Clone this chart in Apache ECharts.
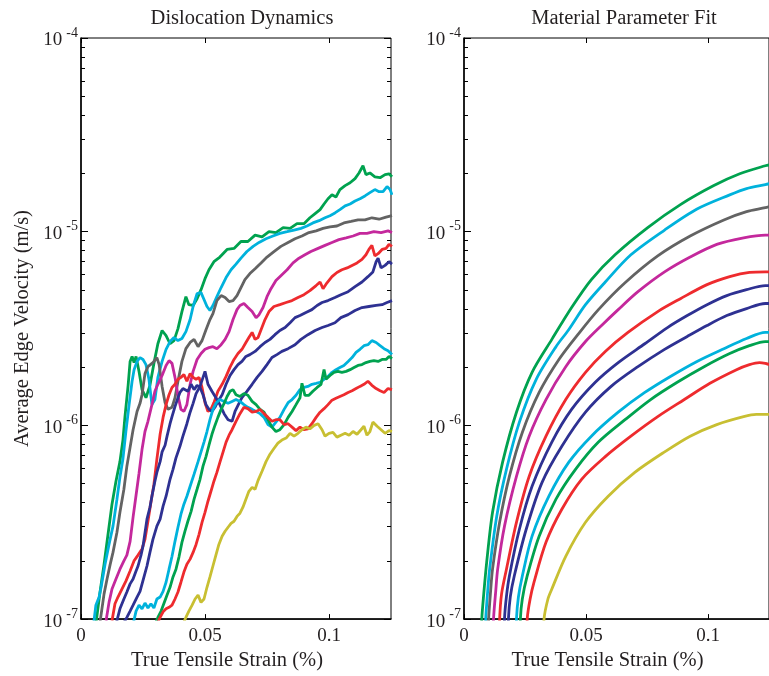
<!DOCTYPE html>
<html>
<head>
<meta charset="utf-8">
<script src="https://cdn.jsdelivr.net/npm/echarts@6/dist/echarts.min.js"></script>
<style>
  html, body { margin: 0; padding: 0; background: #fff; }
  #chart { width: 769px; height: 676px; }
</style>
</head>
<body>
<div id="chart"></div>
<script>
const strainTicks = [0, 0.05, 0.1];
const decades = [1e-7, 1e-6, 1e-5, 1e-4];
const panelTitles = ['Dislocation Dynamics', 'Material Parameter Fit'];
const lineColors = ['#00A24F', '#00B2DC', '#636363', '#C4289C', '#EE2B2E', '#2E3192', '#2E3192', '#00B2DC', '#00A24F', '#EE2B2E', '#C8BF32'];

// left panel: simulated average edge velocity, [strain, m/s]
const ddGreenA = [[0.0060,9.4e-8],[0.0077,1.39e-7],[0.0093,1.92e-7],[0.0109,2.74e-7],[0.0125,3.92e-7],[0.0141,5.15e-7],[0.0157,6.5e-7],[0.0169,8.4e-7],[0.0177,1.10e-6],[0.0190,1.61e-6],[0.0198,2.14e-6],[0.0206,2.27e-6],[0.0214,2.11e-6],[0.0222,2.27e-6],[0.0234,1.90e-6],[0.0246,1.53e-6],[0.0262,1.39e-6],[0.0278,1.61e-6],[0.0294,2.09e-6],[0.0310,2.64e-6],[0.0327,3.09e-6],[0.0343,2.91e-6],[0.0359,2.64e-6],[0.0375,2.74e-6],[0.0391,3.16e-6],[0.0407,3.87e-6],[0.0423,4.62e-6],[0.0435,4.20e-6],[0.0452,4.16e-6],[0.0468,4.51e-6],[0.0484,5.02e-6],[0.0500,5.72e-6],[0.0516,6.36e-6],[0.0536,7.0e-6],[0.0560,7.4e-6],[0.0589,8.1e-6],[0.0617,8.2e-6],[0.0645,8.9e-6],[0.0673,8.9e-6],[0.0702,9.6e-6],[0.0730,9.4e-6],[0.0758,1.0e-5],[0.0786,9.9e-6],[0.0815,1.05e-5],[0.0843,1.04e-5],[0.0871,1.10e-5],[0.0899,1.10e-5],[0.0923,1.18e-5],[0.0944,1.24e-5],[0.0964,1.30e-5],[0.0980,1.39e-5],[0.0996,1.48e-5],[0.1012,1.55e-5],[0.1028,1.51e-5],[0.1044,1.65e-5],[0.1065,1.73e-5],[0.1085,1.79e-5],[0.1105,1.88e-5],[0.1121,2.01e-5],[0.1137,2.19e-5],[0.1149,1.97e-5],[0.1165,2.01e-5],[0.1185,1.92e-5],[0.1206,1.90e-5],[0.1226,1.97e-5],[0.1242,1.99e-5],[0.1254,1.92e-5]];
const ddCyanA = [[0.0052,9.7e-8],[0.0060,1.18e-7],[0.0073,1.30e-7],[0.0081,1.46e-7],[0.0097,1.92e-7],[0.0113,2.43e-7],[0.0129,3.02e-7],[0.0145,4.16e-7],[0.0157,5.4e-7],[0.0169,6.7e-7],[0.0181,9.3e-7],[0.0194,1.28e-6],[0.0206,1.69e-6],[0.0214,1.94e-6],[0.0226,2.14e-6],[0.0238,2.24e-6],[0.0250,2.19e-6],[0.0262,2.06e-6],[0.0274,1.73e-6],[0.0286,1.28e-6],[0.0298,1.36e-6],[0.0310,1.77e-6],[0.0327,2.14e-6],[0.0343,2.47e-6],[0.0359,2.71e-6],[0.0375,2.84e-6],[0.0391,2.74e-6],[0.0407,2.81e-6],[0.0423,3.05e-6],[0.0440,3.52e-6],[0.0452,4.11e-6],[0.0468,4.79e-6],[0.0484,4.85e-6],[0.0496,4.47e-6],[0.0508,4.11e-6],[0.0520,3.92e-6],[0.0532,4.16e-6],[0.0548,4.62e-6],[0.0565,5.15e-6],[0.0585,5.8e-6],[0.0605,6.36e-6],[0.0625,6.8e-6],[0.0645,7.3e-6],[0.0669,7.9e-6],[0.0694,8.4e-6],[0.0718,8.8e-6],[0.0746,9.2e-6],[0.0774,9.5e-6],[0.0802,9.8e-6],[0.0831,1.0e-5],[0.0859,1.02e-5],[0.0887,1.04e-5],[0.0911,1.07e-5],[0.0935,1.11e-5],[0.0960,1.14e-5],[0.0984,1.18e-5],[0.1004,1.21e-5],[0.1024,1.25e-5],[0.1044,1.30e-5],[0.1065,1.36e-5],[0.1085,1.39e-5],[0.1105,1.44e-5],[0.1125,1.48e-5],[0.1145,1.53e-5],[0.1165,1.59e-5],[0.1185,1.65e-5],[0.1202,1.61e-5],[0.1218,1.61e-5],[0.1234,1.71e-5],[0.1246,1.65e-5],[0.1254,1.55e-5]];
const ddGray = [[0.0077,9.7e-8],[0.0093,1.35e-7],[0.0105,1.61e-7],[0.0117,1.90e-7],[0.0129,2.21e-7],[0.0145,2.81e-7],[0.0157,3.56e-7],[0.0173,4.68e-7],[0.0185,6.16e-7],[0.0198,7.7e-7],[0.0210,9.5e-7],[0.0226,1.18e-6],[0.0238,1.30e-6],[0.0246,1.44e-6],[0.0258,1.85e-6],[0.0270,2.01e-6],[0.0290,2.11e-6],[0.0306,2.24e-6],[0.0315,2.06e-6],[0.0327,1.59e-6],[0.0339,1.31e-6],[0.0351,1.21e-6],[0.0367,1.24e-6],[0.0379,1.39e-6],[0.0391,1.69e-6],[0.0407,2.14e-6],[0.0423,2.49e-6],[0.0440,2.68e-6],[0.0456,2.78e-6],[0.0472,2.55e-6],[0.0488,2.74e-6],[0.0504,3.12e-6],[0.0520,3.52e-6],[0.0532,3.78e-6],[0.0548,4.41e-6],[0.0565,4.68e-6],[0.0581,4.57e-6],[0.0597,4.36e-6],[0.0613,4.41e-6],[0.0629,4.68e-6],[0.0645,5.15e-6],[0.0661,5.66e-6],[0.0681,6.08e-6],[0.0702,6.44e-6],[0.0726,6.9e-6],[0.0750,7.4e-6],[0.0778,7.9e-6],[0.0806,8.4e-6],[0.0835,8.8e-6],[0.0863,9.2e-6],[0.0891,9.5e-6],[0.0919,9.9e-6],[0.0948,1.01e-5],[0.0976,1.04e-5],[0.1004,1.06e-5],[0.1032,1.07e-5],[0.1060,1.11e-5],[0.1089,1.13e-5],[0.1117,1.15e-5],[0.1145,1.15e-5],[0.1173,1.18e-5],[0.1202,1.16e-5],[0.1230,1.19e-5],[0.1254,1.21e-5]];
const ddMagenta = [[0.0101,9.8e-8],[0.0113,1.22e-7],[0.0125,1.43e-7],[0.0141,1.61e-7],[0.0157,1.81e-7],[0.0173,2.0e-7],[0.0185,2.14e-7],[0.0198,2.52e-7],[0.0210,3.36e-7],[0.0222,4.36e-7],[0.0234,5.66e-7],[0.0246,7.5e-7],[0.0258,9.3e-7],[0.0270,1.05e-6],[0.0286,1.28e-6],[0.0298,1.50e-6],[0.0310,1.63e-6],[0.0327,1.81e-6],[0.0343,2.04e-6],[0.0355,2.16e-6],[0.0367,2.09e-6],[0.0379,1.77e-6],[0.0391,1.43e-6],[0.0403,1.21e-6],[0.0415,1.18e-6],[0.0427,1.28e-6],[0.0440,1.63e-6],[0.0452,1.90e-6],[0.0468,2.19e-6],[0.0484,2.35e-6],[0.0500,2.47e-6],[0.0516,2.52e-6],[0.0532,2.55e-6],[0.0548,2.49e-6],[0.0565,2.61e-6],[0.0581,2.78e-6],[0.0597,3.05e-6],[0.0613,3.52e-6],[0.0629,3.96e-6],[0.0641,4.16e-6],[0.0657,4.26e-6],[0.0673,4.06e-6],[0.0690,3.87e-6],[0.0706,3.6e-6],[0.0718,3.73e-6],[0.0734,4.06e-6],[0.0750,4.62e-6],[0.0766,5.08e-6],[0.0786,5.6e-6],[0.0806,5.93e-6],[0.0831,6.36e-6],[0.0855,6.9e-6],[0.0879,7.3e-6],[0.0903,7.6e-6],[0.0927,7.9e-6],[0.0956,8.2e-6],[0.0984,8.5e-6],[0.1012,8.8e-6],[0.1040,9.1e-6],[0.1069,9.3e-6],[0.1097,9.5e-6],[0.1125,9.8e-6],[0.1153,9.8e-6],[0.1181,1.0e-5],[0.1210,9.9e-6],[0.1238,1.01e-5],[0.1254,9.9e-6]];
const ddRedA = [[0.0125,9.8e-8],[0.0137,1.20e-7],[0.0149,1.30e-7],[0.0165,1.43e-7],[0.0181,1.57e-7],[0.0198,1.77e-7],[0.0214,2.0e-7],[0.0230,2.14e-7],[0.0246,2.30e-7],[0.0258,2.58e-7],[0.0270,3.20e-7],[0.0282,4.01e-7],[0.0294,4.96e-7],[0.0306,6.7e-7],[0.0319,9.0e-7],[0.0331,1.10e-6],[0.0343,1.28e-6],[0.0355,1.44e-6],[0.0367,1.57e-6],[0.0379,1.63e-6],[0.0391,1.73e-6],[0.0403,1.77e-6],[0.0415,1.83e-6],[0.0427,1.69e-6],[0.0440,1.85e-6],[0.0452,1.77e-6],[0.0464,1.73e-6],[0.0476,1.77e-6],[0.0488,1.57e-6],[0.0500,1.31e-6],[0.0512,1.18e-6],[0.0524,1.21e-6],[0.0536,1.31e-6],[0.0552,1.50e-6],[0.0569,1.63e-6],[0.0585,1.79e-6],[0.0601,2.0e-6],[0.0617,2.19e-6],[0.0633,2.35e-6],[0.0649,2.47e-6],[0.0665,2.68e-6],[0.0677,2.84e-6],[0.0690,3.02e-6],[0.0702,2.78e-6],[0.0714,2.84e-6],[0.0726,3.12e-6],[0.0742,3.52e-6],[0.0758,3.87e-6],[0.0778,4.11e-6],[0.0802,4.20e-6],[0.0827,4.31e-6],[0.0851,4.41e-6],[0.0875,4.57e-6],[0.0899,4.73e-6],[0.0923,4.96e-6],[0.0948,5.27e-6],[0.0964,5.5e-6],[0.0976,5.08e-6],[0.0992,5.45e-6],[0.1012,5.86e-6],[0.1032,6.16e-6],[0.1052,6.36e-6],[0.1073,6.5e-6],[0.1093,6.7e-6],[0.1113,6.9e-6],[0.1133,7.2e-6],[0.1149,7.6e-6],[0.1161,8.1e-6],[0.1173,8.5e-6],[0.1185,7.5e-6],[0.1198,7.7e-6],[0.1214,8.1e-6],[0.1230,8.2e-6],[0.1242,8.6e-6],[0.1254,8.4e-6]];
const ddBlueA = [[0.0141,9.4e-8],[0.0157,1.13e-7],[0.0173,1.27e-7],[0.0185,1.38e-7],[0.0198,1.52e-7],[0.0210,1.61e-7],[0.0222,1.77e-7],[0.0230,1.88e-7],[0.0242,2.14e-7],[0.0250,2.38e-7],[0.0266,3.28e-7],[0.0278,3.78e-7],[0.0286,4.31e-7],[0.0298,5.15e-7],[0.0306,5.72e-7],[0.0319,6.5e-7],[0.0327,7.3e-7],[0.0339,7.9e-7],[0.0347,8.8e-7],[0.0359,1.02e-6],[0.0367,1.11e-6],[0.0379,1.25e-6],[0.0391,1.39e-6],[0.0399,1.48e-6],[0.0411,1.55e-6],[0.0419,1.57e-6],[0.0431,1.50e-6],[0.0444,1.63e-6],[0.0456,1.53e-6],[0.0468,1.61e-6],[0.0480,1.57e-6],[0.0492,1.44e-6],[0.0504,1.28e-6],[0.0516,1.21e-6],[0.0528,1.18e-6],[0.0540,1.24e-6],[0.0552,1.33e-6],[0.0569,1.44e-6],[0.0585,1.63e-6],[0.0601,1.81e-6],[0.0617,1.94e-6],[0.0633,2.06e-6],[0.0649,2.14e-6],[0.0665,2.27e-6],[0.0681,2.32e-6],[0.0702,2.41e-6],[0.0722,2.55e-6],[0.0742,2.68e-6],[0.0762,2.78e-6],[0.0782,2.94e-6],[0.0802,3.09e-6],[0.0823,3.20e-6],[0.0843,3.39e-6],[0.0863,3.6e-6],[0.0883,3.69e-6],[0.0907,3.83e-6],[0.0931,3.96e-6],[0.0952,4.16e-6],[0.0972,4.31e-6],[0.0996,4.41e-6],[0.1024,4.57e-6],[0.1048,4.73e-6],[0.1077,4.90e-6],[0.1105,5.2e-6],[0.1133,5.5e-6],[0.1157,5.86e-6],[0.1177,6.2e-6],[0.1190,7.0e-6],[0.1198,7.3e-6],[0.1210,6.5e-6],[0.1226,6.7e-6],[0.1242,7.0e-6],[0.1254,6.8e-6]];
const ddBlueB = [[0.0169,9.4e-8],[0.0185,1.02e-7],[0.0198,1.10e-7],[0.0210,1.18e-7],[0.0226,1.30e-7],[0.0238,1.39e-7],[0.0254,1.65e-7],[0.0266,1.88e-7],[0.0278,2.21e-7],[0.0290,2.58e-7],[0.0306,3.02e-7],[0.0319,3.28e-7],[0.0331,3.83e-7],[0.0343,4.31e-7],[0.0359,5.27e-7],[0.0371,5.93e-7],[0.0383,6.8e-7],[0.0399,7.8e-7],[0.0411,8.8e-7],[0.0427,1.02e-6],[0.0440,1.17e-6],[0.0452,1.30e-6],[0.0464,1.46e-6],[0.0480,1.59e-6],[0.0492,1.77e-6],[0.0500,1.90e-6],[0.0512,1.63e-6],[0.0528,1.50e-6],[0.0544,1.39e-6],[0.0560,1.28e-6],[0.0577,1.15e-6],[0.0593,1.07e-6],[0.0609,1.05e-6],[0.0621,1.18e-6],[0.0637,1.30e-6],[0.0649,1.39e-6],[0.0669,1.50e-6],[0.0690,1.63e-6],[0.0710,1.77e-6],[0.0730,1.90e-6],[0.0750,2.06e-6],[0.0770,2.24e-6],[0.0790,2.32e-6],[0.0810,2.41e-6],[0.0835,2.49e-6],[0.0863,2.61e-6],[0.0887,2.78e-6],[0.0915,2.94e-6],[0.0944,3.09e-6],[0.0972,3.20e-6],[0.0996,3.28e-6],[0.1024,3.39e-6],[0.1048,3.6e-6],[0.1077,3.73e-6],[0.1105,3.92e-6],[0.1133,4.06e-6],[0.1161,4.11e-6],[0.1190,4.16e-6],[0.1214,4.20e-6],[0.1234,4.31e-6],[0.1254,4.41e-6]];
const ddCyanB = [[0.0210,9.4e-8],[0.0222,1.10e-7],[0.0234,1.18e-7],[0.0246,1.13e-7],[0.0258,1.21e-7],[0.0270,1.14e-7],[0.0282,1.20e-7],[0.0294,1.14e-7],[0.0306,1.27e-7],[0.0319,1.30e-7],[0.0331,1.39e-7],[0.0343,1.55e-7],[0.0355,1.81e-7],[0.0367,2.11e-7],[0.0379,2.52e-7],[0.0391,2.98e-7],[0.0403,3.48e-7],[0.0415,3.92e-7],[0.0427,4.31e-7],[0.0440,4.85e-7],[0.0456,5.6e-7],[0.0472,6.5e-7],[0.0484,7.3e-7],[0.0496,8.2e-7],[0.0508,9.3e-7],[0.0520,1.07e-6],[0.0532,1.21e-6],[0.0544,1.30e-6],[0.0560,1.36e-6],[0.0577,1.33e-6],[0.0593,1.30e-6],[0.0609,1.33e-6],[0.0625,1.36e-6],[0.0641,1.33e-6],[0.0657,1.28e-6],[0.0673,1.24e-6],[0.0690,1.21e-6],[0.0706,1.18e-6],[0.0722,1.15e-6],[0.0738,1.10e-6],[0.0754,1.01e-6],[0.0770,9.8e-7],[0.0786,1.04e-6],[0.0802,1.10e-6],[0.0819,1.21e-6],[0.0835,1.31e-6],[0.0851,1.36e-6],[0.0867,1.43e-6],[0.0883,1.53e-6],[0.0899,1.57e-6],[0.0915,1.59e-6],[0.0931,1.63e-6],[0.0948,1.65e-6],[0.0964,1.67e-6],[0.0980,1.73e-6],[0.0996,1.79e-6],[0.1012,1.88e-6],[0.1028,1.94e-6],[0.1044,1.99e-6],[0.1060,2.04e-6],[0.1077,2.14e-6],[0.1093,2.24e-6],[0.1109,2.38e-6],[0.1125,2.47e-6],[0.1141,2.58e-6],[0.1157,2.61e-6],[0.1173,2.74e-6],[0.1190,2.68e-6],[0.1206,2.58e-6],[0.1222,2.49e-6],[0.1238,2.43e-6],[0.1254,2.32e-6]];
const ddGreenB = [[0.0298,9.4e-8],[0.0310,1.02e-7],[0.0323,1.10e-7],[0.0335,1.21e-7],[0.0347,1.33e-7],[0.0359,1.46e-7],[0.0371,1.65e-7],[0.0383,1.81e-7],[0.0395,2.09e-7],[0.0407,2.49e-7],[0.0419,2.84e-7],[0.0431,3.20e-7],[0.0444,3.6e-7],[0.0456,4.16e-7],[0.0468,4.68e-7],[0.0480,5.27e-7],[0.0492,6.16e-7],[0.0504,6.9e-7],[0.0516,7.9e-7],[0.0528,9.0e-7],[0.0540,1.0e-6],[0.0552,1.10e-6],[0.0565,1.21e-6],[0.0577,1.30e-6],[0.0589,1.41e-6],[0.0601,1.50e-6],[0.0613,1.53e-6],[0.0625,1.44e-6],[0.0641,1.41e-6],[0.0657,1.46e-6],[0.0673,1.43e-6],[0.0690,1.33e-6],[0.0706,1.28e-6],[0.0722,1.21e-6],[0.0738,1.17e-6],[0.0754,1.07e-6],[0.0770,9.8e-7],[0.0786,9.3e-7],[0.0802,9.5e-7],[0.0819,1.01e-6],[0.0835,1.10e-6],[0.0851,1.18e-6],[0.0867,1.28e-6],[0.0883,1.39e-6],[0.0891,1.65e-6],[0.0903,1.43e-6],[0.0919,1.43e-6],[0.0935,1.50e-6],[0.0952,1.57e-6],[0.0968,1.63e-6],[0.0980,1.94e-6],[0.0988,1.73e-6],[0.1004,1.81e-6],[0.1020,1.88e-6],[0.1036,1.90e-6],[0.1052,1.88e-6],[0.1069,1.90e-6],[0.1085,1.94e-6],[0.1101,1.99e-6],[0.1117,2.04e-6],[0.1133,2.06e-6],[0.1149,2.11e-6],[0.1165,2.14e-6],[0.1181,2.16e-6],[0.1198,2.14e-6],[0.1214,2.19e-6],[0.1230,2.19e-6],[0.1242,2.27e-6],[0.1254,2.21e-6]];
const ddRedB = [[0.0306,9.4e-8],[0.0319,1.02e-7],[0.0331,1.09e-7],[0.0343,1.13e-7],[0.0355,1.15e-7],[0.0367,1.18e-7],[0.0379,1.27e-7],[0.0391,1.38e-7],[0.0403,1.55e-7],[0.0415,1.75e-7],[0.0427,1.92e-7],[0.0440,2.04e-7],[0.0452,2.21e-7],[0.0464,2.43e-7],[0.0476,2.74e-7],[0.0488,3.16e-7],[0.0500,3.56e-7],[0.0512,4.06e-7],[0.0524,4.57e-7],[0.0536,5.15e-7],[0.0548,5.72e-7],[0.0560,6.44e-7],[0.0573,7.3e-7],[0.0585,8.2e-7],[0.0597,8.9e-7],[0.0609,9.5e-7],[0.0625,1.05e-6],[0.0641,1.15e-6],[0.0657,1.24e-6],[0.0673,1.22e-6],[0.0690,1.17e-6],[0.0706,1.18e-6],[0.0722,1.21e-6],[0.0738,1.15e-6],[0.0754,1.10e-6],[0.0770,1.05e-6],[0.0786,1.07e-6],[0.0802,1.07e-6],[0.0819,1.01e-6],[0.0835,1.02e-6],[0.0851,9.8e-7],[0.0867,9.4e-7],[0.0883,9.8e-7],[0.0899,9.5e-7],[0.0915,9.6e-7],[0.0931,1.02e-6],[0.0948,1.10e-6],[0.0964,1.17e-6],[0.0980,1.22e-6],[0.0996,1.28e-6],[0.1012,1.35e-6],[0.1028,1.38e-6],[0.1044,1.41e-6],[0.1060,1.44e-6],[0.1077,1.48e-6],[0.1093,1.51e-6],[0.1109,1.55e-6],[0.1125,1.59e-6],[0.1141,1.63e-6],[0.1157,1.69e-6],[0.1173,1.61e-6],[0.1190,1.55e-6],[0.1206,1.51e-6],[0.1222,1.48e-6],[0.1238,1.55e-6],[0.1254,1.53e-6]];
const ddYellow = [[0.0411,9.4e-8],[0.0423,1.02e-7],[0.0435,1.10e-7],[0.0448,1.18e-7],[0.0460,1.27e-7],[0.0472,1.33e-7],[0.0484,1.22e-7],[0.0496,1.27e-7],[0.0508,1.46e-7],[0.0520,1.65e-7],[0.0532,1.88e-7],[0.0544,2.14e-7],[0.0556,2.43e-7],[0.0569,2.68e-7],[0.0581,2.84e-7],[0.0593,2.98e-7],[0.0605,3.12e-7],[0.0617,3.20e-7],[0.0629,3.39e-7],[0.0641,3.52e-7],[0.0653,3.78e-7],[0.0665,4.16e-7],[0.0677,4.57e-7],[0.0690,4.79e-7],[0.0702,4.68e-7],[0.0714,5.2e-7],[0.0730,5.8e-7],[0.0746,6.5e-7],[0.0762,7.1e-7],[0.0778,7.6e-7],[0.0794,8.1e-7],[0.0810,8.4e-7],[0.0827,8.6e-7],[0.0843,9.1e-7],[0.0859,8.8e-7],[0.0875,9.1e-7],[0.0891,9.5e-7],[0.0907,9.8e-7],[0.0923,9.6e-7],[0.0940,1.0e-6],[0.0956,1.02e-6],[0.0972,9.5e-7],[0.0984,8.8e-7],[0.1000,9.1e-7],[0.1016,9.2e-7],[0.1032,8.7e-7],[0.1048,8.9e-7],[0.1065,9.1e-7],[0.1081,8.9e-7],[0.1097,9.3e-7],[0.1113,9.0e-7],[0.1129,9.5e-7],[0.1141,9.9e-7],[0.1153,8.9e-7],[0.1165,9.3e-7],[0.1177,1.04e-6],[0.1194,9.9e-7],[0.1210,9.5e-7],[0.1226,9.1e-7],[0.1242,9.4e-7],[0.1254,9.3e-7]];

// right panel: fitted curves, [strain, m/s]
const fitGreenA = [[0.0069,6.2e-8],[0.0073,1.0e-7],[0.0081,1.35e-7],[0.0093,1.97e-7],[0.0117,3.56e-7],[0.0158,6.44e-7],[0.0215,1.17e-6],[0.0279,1.88e-6],[0.0360,2.78e-6],[0.0441,4.06e-6],[0.0522,5.66e-6],[0.0619,7.6e-6],[0.0753,1.05e-5],[0.0887,1.38e-5],[0.1024,1.73e-5],[0.1130,1.99e-5],[0.1235,2.19e-5],[0.1251,2.21e-5]];
const fitCyanA = [[0.0085,6.2e-8],[0.0089,1.0e-7],[0.0097,1.39e-7],[0.0105,1.81e-7],[0.0134,3.39e-7],[0.0174,5.93e-7],[0.0227,1.04e-6],[0.0296,1.73e-6],[0.0377,2.55e-6],[0.0429,3.12e-6],[0.0498,4.20e-6],[0.0579,5.5e-6],[0.0684,7.6e-6],[0.0822,1.02e-5],[0.0955,1.31e-5],[0.1089,1.55e-5],[0.1158,1.67e-5],[0.1235,1.75e-5],[0.1251,1.77e-5]];
const fitGray = [[0.0097,6.2e-8],[0.0101,1.0e-7],[0.0109,1.39e-7],[0.0117,1.81e-7],[0.0146,3.16e-7],[0.0186,5.45e-7],[0.0239,9.2e-7],[0.0308,1.48e-6],[0.0389,2.19e-6],[0.0470,2.98e-6],[0.0551,3.96e-6],[0.0660,5.45e-6],[0.0794,7.5e-6],[0.0927,9.5e-6],[0.1065,1.15e-5],[0.1158,1.27e-5],[0.1235,1.33e-5],[0.1251,1.35e-5]];
const fitMagenta = [[0.0117,6.2e-8],[0.0121,1.0e-7],[0.0130,1.39e-7],[0.0138,1.81e-7],[0.0166,3.02e-7],[0.0215,5.45e-7],[0.0267,8.8e-7],[0.0336,1.36e-6],[0.0417,2.01e-6],[0.0498,2.71e-6],[0.0567,3.31e-6],[0.0632,3.96e-6],[0.0713,4.90e-6],[0.0822,6.2e-6],[0.0927,7.4e-6],[0.1036,8.6e-6],[0.1146,9.3e-6],[0.1235,9.6e-6],[0.1251,9.6e-6]];
const fitRedA = [[0.0142,6.2e-8],[0.0146,1.0e-7],[0.0154,1.35e-7],[0.0174,1.81e-7],[0.0215,3.16e-7],[0.0267,5.45e-7],[0.0336,8.8e-7],[0.0417,1.36e-6],[0.0498,1.88e-6],[0.0579,2.41e-6],[0.0672,3.02e-6],[0.0794,3.87e-6],[0.0887,4.51e-6],[0.0996,5.33e-6],[0.1089,5.86e-6],[0.1170,6.16e-6],[0.1235,6.2e-6],[0.1251,6.2e-6]];
const fitBlueA = [[0.0162,6.2e-8],[0.0166,1.0e-7],[0.0174,1.31e-7],[0.0186,1.67e-7],[0.0227,2.91e-7],[0.0279,4.85e-7],[0.0360,8.2e-7],[0.0441,1.21e-6],[0.0538,1.67e-6],[0.0632,2.11e-6],[0.0741,2.64e-6],[0.0834,3.20e-6],[0.0915,3.69e-6],[0.0996,4.20e-6],[0.1077,4.68e-6],[0.1158,5.02e-6],[0.1235,5.27e-6],[0.1251,5.27e-6]];
const fitBlueB = [[0.0178,6.2e-8],[0.0182,1.0e-7],[0.0190,1.31e-7],[0.0206,1.67e-7],[0.0255,2.91e-7],[0.0320,5.08e-7],[0.0401,7.8e-7],[0.0498,1.17e-6],[0.0603,1.59e-6],[0.0713,2.01e-6],[0.0822,2.47e-6],[0.0915,2.88e-6],[0.0996,3.28e-6],[0.1077,3.69e-6],[0.1158,4.01e-6],[0.1235,4.26e-6],[0.1251,4.26e-6]];
const fitCyanB = [[0.0211,6.2e-8],[0.0215,1.0e-7],[0.0223,1.30e-7],[0.0239,1.67e-7],[0.0279,2.68e-7],[0.0348,4.31e-7],[0.0429,6.44e-7],[0.0522,8.8e-7],[0.0632,1.17e-6],[0.0741,1.48e-6],[0.0846,1.79e-6],[0.0955,2.14e-6],[0.1065,2.49e-6],[0.1158,2.81e-6],[0.1235,3.02e-6],[0.1251,3.02e-6]];
const fitGreenB = [[0.0227,6.2e-8],[0.0231,1.0e-7],[0.0239,1.27e-7],[0.0259,1.67e-7],[0.0308,2.68e-7],[0.0377,4.16e-7],[0.0457,5.93e-7],[0.0551,8.2e-7],[0.0660,1.07e-6],[0.0765,1.36e-6],[0.0874,1.67e-6],[0.0984,2.01e-6],[0.1089,2.35e-6],[0.1170,2.58e-6],[0.1235,2.71e-6],[0.1251,2.71e-6]];
const fitRedB = [[0.0255,6.2e-8],[0.0259,1.0e-7],[0.0271,1.27e-7],[0.0287,1.55e-7],[0.0336,2.49e-7],[0.0401,3.69e-7],[0.0482,5.27e-7],[0.0579,6.9e-7],[0.0684,8.8e-7],[0.0794,1.11e-6],[0.0903,1.36e-6],[0.1008,1.65e-6],[0.1117,1.94e-6],[0.1170,2.06e-6],[0.1211,2.11e-6],[0.1235,2.09e-6],[0.1251,2.06e-6]];
const fitYellow = [[0.0324,6.2e-8],[0.0328,1.0e-7],[0.0344,1.27e-7],[0.0360,1.43e-7],[0.0417,2.11e-7],[0.0498,3.16e-7],[0.0591,4.31e-7],[0.0700,5.72e-7],[0.0822,7.3e-7],[0.0927,8.8e-7],[0.1036,1.01e-6],[0.1146,1.11e-6],[0.1198,1.14e-6],[0.1235,1.14e-6],[0.1251,1.14e-6]];

const ddCurves = [ddGreenA, ddCyanA, ddGray, ddMagenta, ddRedA, ddBlueA, ddBlueB, ddCyanB, ddGreenB, ddRedB, ddYellow];
const fitCurves = [fitGreenA, fitCyanA, fitGray, fitMagenta, fitRedA, fitBlueA, fitBlueB, fitCyanB, fitGreenB, fitRedB, fitYellow];

const FONT = 'Liberation Serif, Times New Roman, serif';
const INK = '#231F20';

// tick positions in exponent space for the tick-only axes
const majorExp = decades.map(d => Math.round(Math.log10(d)));
const minorExp = [];
decades.slice(0, 3).forEach(d => {
  for (let k = 2; k <= 9; k++) minorExp.push(Math.log10(k * d));
});

const grids = [
  { left: 81, top: 38, width: 310, height: 582 },
  { left: 464, top: 38, width: 309, height: 582 },
];

function mainX(gi) {
  return {
    type: 'value', gridIndex: gi, min: 0, max: 0.125, position: 'bottom',
    name: 'True Tensile Strain (%)', nameLocation: 'middle', nameGap: 30,
    nameTextStyle: { fontFamily: FONT, fontSize: 20.5, color: INK, padding: [0, 18, 0, 0] },
    axisLine: { show: true, lineStyle: { color: '#000', width: 1.5 } },
    axisTick: { inside: true, length: 5, customValues: strainTicks, lineStyle: { color: '#000' } },
    axisLabel: { customValues: strainTicks, margin: 7, fontFamily: FONT, fontSize: 19, color: INK },
    splitLine: { show: false },
  };
}
function topX(gi) {
  return {
    type: 'value', gridIndex: gi, min: 0, max: 0.125, position: 'top',
    axisLine: { show: false },
    axisTick: { inside: true, length: 5, customValues: strainTicks, lineStyle: { color: '#000' } },
    axisLabel: { show: false }, splitLine: { show: false },
  };
}
function mainY(gi, withName) {
  return {
    type: 'log', logBase: 10, gridIndex: gi, min: 1e-7, max: 1e-4, position: 'left',
    name: withName ? 'Average Edge Velocity (m/s)' : '', nameLocation: 'middle', nameGap: 48,
    nameTextStyle: { fontFamily: FONT, fontSize: 20.5, color: INK },
    axisLine: { show: true, lineStyle: { color: '#000', width: 1.5 } },
    axisTick: { inside: true, length: 7, lineStyle: { color: '#000' } },
    axisLabel: {
      margin: 3, fontFamily: FONT, color: INK,
      formatter: v => '{b|10}{s|' + Math.round(Math.log10(v)) + '}',
      rich: {
        b: { fontFamily: FONT, fontSize: 19, color: INK, lineHeight: 24, verticalAlign: 'bottom' },
        s: { fontFamily: FONT, fontSize: 14, color: INK, lineHeight: 10, verticalAlign: 'top', padding: [0, 0, 0, 4] },
      },
    },
    splitLine: { show: false },
  };
}
function tickY(gi, pos, values, len) {
  return {
    type: 'value', gridIndex: gi, min: -7, max: -4, position: pos,
    axisLine: { show: false },
    axisTick: { inside: true, length: len, customValues: values, lineStyle: { color: '#000' } },
    axisLabel: { show: false }, splitLine: { show: false },
  };
}

const series = [];
ddCurves.forEach((d, i) => series.push({
  type: 'line', xAxisIndex: 0, yAxisIndex: 0, data: d, showSymbol: false, silent: true,
  lineStyle: { width: 2.8, color: lineColors[i] }, itemStyle: { color: lineColors[i] },
}));
fitCurves.forEach((d, i) => series.push({
  type: 'line', xAxisIndex: 2, yAxisIndex: 4, data: d, showSymbol: false, silent: true,
  smooth: 0.3,
  lineStyle: { width: 2.8, color: lineColors[i] }, itemStyle: { color: lineColors[i] },
}));

const chart = echarts.init(document.getElementById('chart'));
chart.setOption({
  animation: false,
  backgroundColor: '#fff',
  title: panelTitles.map((t, i) => ({
    text: t, left: i === 0 ? 237 : 619, top: 3, textAlign: 'center',
    textStyle: { fontFamily: FONT, fontSize: 20.5, fontWeight: 'normal', color: INK },
  })),
  grid: grids.map(g => Object.assign({ show: true, borderColor: '#000', borderWidth: 1, backgroundColor: 'transparent' }, g)),
  xAxis: [mainX(0), topX(0), mainX(1), topX(1)],
  yAxis: [
    mainY(0, true), tickY(0, 'left', minorExp, 4), tickY(0, 'right', majorExp, 7), tickY(0, 'right', minorExp, 4),
    mainY(1, false), tickY(1, 'left', minorExp, 4),
  ],
  series: series,
});
</script>
</body>
</html>
